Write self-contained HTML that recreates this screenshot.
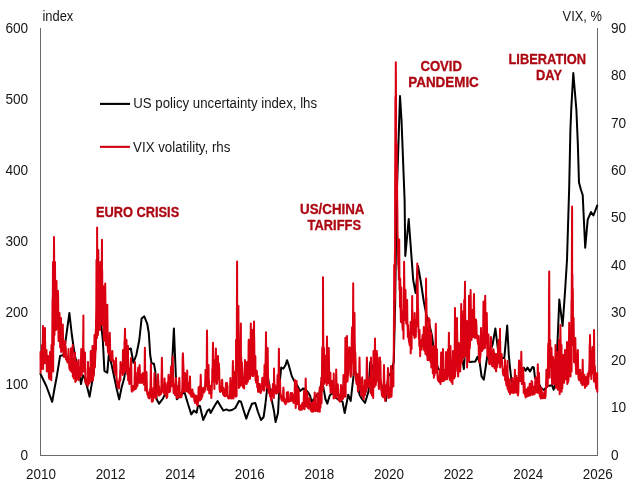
<!DOCTYPE html>
<html><head><meta charset="utf-8"><title>Uncertainty chart</title>
<style>
html,body{margin:0;padding:0;background:#fff;}
svg{display:block}
.t{font-family:"Liberation Sans",sans-serif;font-size:14px;fill:#161616}
.a{stroke:#ad0712;stroke-width:0.3px;font-family:"Liberation Sans",sans-serif;font-size:13.8px;font-weight:bold;fill:#ad0712}
</style></head><body>
<svg width="633" height="485" viewBox="0 0 633 485">
<rect width="633" height="485" fill="#fff"/>
<path d="M40.5 28V456M597.5 28V456M40 455.5H598" stroke="#6a6a6a" stroke-width="1" fill="none"/>
<text x="20.61" y="459.70" class="t" textLength="7.59" lengthAdjust="spacingAndGlyphs">0</text>
<text x="5.43" y="388.53" class="t" textLength="22.77" lengthAdjust="spacingAndGlyphs">100</text>
<text x="5.43" y="317.37" class="t" textLength="22.77" lengthAdjust="spacingAndGlyphs">200</text>
<text x="5.43" y="246.20" class="t" textLength="22.77" lengthAdjust="spacingAndGlyphs">300</text>
<text x="5.43" y="175.03" class="t" textLength="22.77" lengthAdjust="spacingAndGlyphs">400</text>
<text x="5.43" y="103.87" class="t" textLength="22.77" lengthAdjust="spacingAndGlyphs">500</text>
<text x="5.43" y="32.70" class="t" textLength="22.77" lengthAdjust="spacingAndGlyphs">600</text>
<text x="610.90" y="459.70" class="t" textLength="7.59" lengthAdjust="spacingAndGlyphs">0</text>
<text x="610.90" y="412.26" class="t" textLength="15.18" lengthAdjust="spacingAndGlyphs">10</text>
<text x="610.90" y="364.81" class="t" textLength="15.18" lengthAdjust="spacingAndGlyphs">20</text>
<text x="610.90" y="317.37" class="t" textLength="15.18" lengthAdjust="spacingAndGlyphs">30</text>
<text x="610.90" y="269.92" class="t" textLength="15.18" lengthAdjust="spacingAndGlyphs">40</text>
<text x="610.90" y="222.48" class="t" textLength="15.18" lengthAdjust="spacingAndGlyphs">50</text>
<text x="610.90" y="175.03" class="t" textLength="15.18" lengthAdjust="spacingAndGlyphs">60</text>
<text x="610.90" y="127.59" class="t" textLength="15.18" lengthAdjust="spacingAndGlyphs">70</text>
<text x="610.90" y="80.14" class="t" textLength="15.18" lengthAdjust="spacingAndGlyphs">80</text>
<text x="610.90" y="32.70" class="t" textLength="15.18" lengthAdjust="spacingAndGlyphs">90</text>
<text x="26.05" y="479.00" class="t" textLength="29.90" lengthAdjust="spacingAndGlyphs">2010</text>
<text x="95.65" y="479.00" class="t" textLength="29.90" lengthAdjust="spacingAndGlyphs">2012</text>
<text x="165.25" y="479.00" class="t" textLength="29.90" lengthAdjust="spacingAndGlyphs">2014</text>
<text x="234.85" y="479.00" class="t" textLength="29.90" lengthAdjust="spacingAndGlyphs">2016</text>
<text x="304.45" y="479.00" class="t" textLength="29.90" lengthAdjust="spacingAndGlyphs">2018</text>
<text x="374.05" y="479.00" class="t" textLength="29.90" lengthAdjust="spacingAndGlyphs">2020</text>
<text x="443.65" y="479.00" class="t" textLength="29.90" lengthAdjust="spacingAndGlyphs">2022</text>
<text x="513.25" y="479.00" class="t" textLength="29.90" lengthAdjust="spacingAndGlyphs">2024</text>
<text x="582.85" y="479.00" class="t" textLength="29.90" lengthAdjust="spacingAndGlyphs">2026</text>
<text x="42.40" y="20.50" class="t" textLength="30.90" lengthAdjust="spacingAndGlyphs">index</text>
<text x="562.60" y="20.50" class="t" textLength="39.20" lengthAdjust="spacingAndGlyphs">VIX, %</text>
<path d="M100 103.9H130" stroke="#000" stroke-width="2.1"/>
<path d="M100 146.85H130" stroke="#d60012" stroke-width="2.1"/>
<text x="133.30" y="107.90" class="t" textLength="183.79" lengthAdjust="spacingAndGlyphs">US policy uncertainty index, lhs</text>
<text x="133.10" y="151.70" class="t" textLength="97.30" lengthAdjust="spacingAndGlyphs">VIX volatility, rhs</text>
<text x="95.90" y="216.80" class="a" textLength="83.30" lengthAdjust="spacingAndGlyphs">EURO CRISIS</text>
<text x="300.10" y="214.10" class="a" textLength="64.39" lengthAdjust="spacingAndGlyphs">US/CHINA</text>
<text x="307.50" y="229.60" class="a" textLength="53.51" lengthAdjust="spacingAndGlyphs">TARIFFS</text>
<text x="420.40" y="71.00" class="a" textLength="41.60" lengthAdjust="spacingAndGlyphs">COVID</text>
<text x="408.30" y="86.60" class="a" textLength="70.50" lengthAdjust="spacingAndGlyphs">PANDEMIC</text>
<text x="508.50" y="63.80" class="a" textLength="77.60" lengthAdjust="spacingAndGlyphs">LIBERATION</text>
<text x="536.00" y="79.80" class="a" textLength="25.99" lengthAdjust="spacingAndGlyphs">DAY</text>
<polyline points="40.5,374.0 46.3,386.0 52.2,401.8 54.6,388.0 57.0,375.2 60.1,356.0 63.5,355.0 66.5,334.0 69.4,313.0 71.8,334.5 74.7,355.0 77.0,364.0 79.1,371.4 81.0,384.0 82.9,375.2 84.5,378.0 86.7,385.3 89.6,396.7 92.4,380.3 93.8,372.0 96.0,340.0 99.0,308.0 100.7,320.0 102.8,340.0 104.4,370.8 107.3,372.7 108.8,355.0 111.0,362.0 114.2,377.0 116.5,388.0 119.2,399.4 121.5,388.0 124.3,377.8 126.6,358.0 127.7,349.4 130.8,348.5 133.4,362.7 136.3,355.0 139.3,340.0 141.6,318.5 144.3,316.3 147.3,324.0 148.8,333.0 150.2,355.0 151.5,363.2 154.0,363.8 155.3,371.4 156.6,399.2 159.1,403.7 162.9,398.6 166.0,392.0 168.5,389.0 171.0,385.0 173.9,328.5 176.8,399.2 180.0,396.0 184.4,391.7 188.0,404.0 191.3,414.4 193.9,410.6 196.6,412.7 198.0,405.6 199.9,406.0 203.2,420.0 205.5,415.0 207.5,410.6 209.3,409.4 210.6,413.0 214.5,406.0 217.6,401.0 220.5,406.0 223.3,410.6 226.4,409.4 229.0,410.6 232.0,410.0 235.3,408.0 239.0,401.0 241.0,401.8 243.5,410.0 246.3,418.6 249.0,411.0 252.0,403.7 255.3,403.0 258.0,412.0 261.0,420.0 263.6,417.0 265.3,405.0 266.9,391.0 268.2,379.0 269.4,386.6 271.3,398.0 273.9,410.6 275.6,422.0 278.0,413.0 279.5,385.0 281.2,367.6 283.4,368.6 285.6,365.0 287.0,360.2 288.7,365.0 291.9,376.4 294.4,381.4 297.0,385.0 300.1,391.0 303.3,388.4 306.0,390.0 308.5,393.0 310.2,396.0 311.5,401.7 314.0,399.0 317.2,394.7 319.1,394.7 321.6,381.4 323.5,387.8 325.4,399.0 327.3,403.6 329.8,395.3 333.0,393.0 336.0,398.0 339.0,400.0 342.5,401.7 344.7,413.0 346.9,401.7 348.2,394.7 350.7,401.0 352.6,384.0 354.5,367.0 357.0,380.0 359.5,394.7 362.0,399.0 365.0,403.0 368.5,391.4 370.3,362.0 372.0,366.0 375.0,376.0 378.0,380.0 381.0,385.0 383.5,392.0 385.9,401.0 388.3,376.0 391.0,373.0 393.8,362.0 395.2,300.0 396.6,200.0 400.0,96.0 401.5,120.0 404.6,200.0 405.3,256.0 408.7,219.0 413.2,280.0 415.6,293.0 418.0,266.0 420.5,280.0 423.8,301.5 427.0,318.0 429.5,325.0 432.0,336.0 433.7,349.3 435.4,360.0 438.0,368.0 441.0,372.0 444.0,370.0 449.5,376.0 451.0,370.0 454.0,366.0 457.0,364.0 460.0,362.0 462.7,361.3 463.9,369.0 466.1,330.0 468.4,361.2 469.6,362.0 475.3,361.5 477.5,356.7 479.7,362.6 481.6,376.5 483.8,379.7 485.4,369.0 487.3,356.0 489.5,352.0 492.5,345.0 495.4,328.5 498.0,350.0 500.5,358.0 504.3,358.0 507.2,325.5 508.8,355.0 510.0,367.6 511.3,379.0 513.0,385.0 516.0,386.0 519.0,380.0 521.5,372.0 523.7,367.6 525.6,370.8 527.5,367.6 530.0,371.4 532.5,367.0 533.8,367.5 535.0,377.8 537.5,381.0 541.0,388.0 544.0,390.0 547.5,386.0 552.1,385.3 553.6,389.8 555.3,384.0 557.6,340.0 559.3,299.6 562.6,326.0 565.0,292.0 567.0,260.0 569.2,187.0 570.4,130.0 571.3,108.0 573.3,73.0 576.4,110.0 577.8,143.0 579.0,182.6 581.0,190.0 582.7,195.0 585.2,247.7 587.7,219.6 591.0,212.0 593.4,215.5 595.0,211.4 597.2,205.6" fill="none" stroke="#000" stroke-width="2" stroke-linejoin="round" stroke-linecap="round"/>
<polyline points="40.5,352.0 40.6,372.7 40.6,356.0 40.8,361.2 40.9,365.0 41.1,369.0 41.2,369.3 41.3,368.3 41.5,368.4 41.6,359.2 41.7,352.5 41.9,349.6 42.0,345.0 42.2,347.7 42.3,354.0 42.4,359.9 42.6,360.7 42.7,351.7 42.8,339.2 43.0,326.0 43.1,369.0 43.3,345.6 43.4,355.1 43.5,360.9 43.7,350.8 43.8,351.2 43.9,361.6 44.1,363.2 44.2,363.5 44.4,357.9 44.5,357.8 44.6,352.4 44.8,341.5 44.9,333.2 45.0,328.0 45.1,363.0 45.2,341.8 45.3,352.8 45.5,360.2 45.6,358.1 45.7,353.9 45.9,359.1 46.0,356.0 46.2,356.9 46.3,353.2 46.4,351.6 46.5,350.0 46.6,353.0 46.7,358.3 46.8,371.4 47.0,367.6 47.1,368.5 47.3,370.0 47.4,364.2 47.5,362.9 47.7,361.3 47.8,358.5 48.0,356.0 48.1,358.2 48.2,363.7 48.4,367.8 48.5,371.8 48.6,368.4 48.8,373.5 48.9,377.3 49.1,377.7 49.2,376.4 49.3,377.6 49.4,379.0 49.5,376.5 49.6,372.3 49.7,365.0 49.9,357.5 50.0,352.0 50.2,357.0 50.3,364.0 50.4,369.6 50.6,366.7 50.7,367.6 50.8,372.6 51.0,372.8 51.1,368.5 51.3,380.3 51.4,351.2 51.5,345.0 51.7,348.2 51.8,353.2 52.0,358.8 52.1,354.2 52.2,340.2 52.4,319.4 52.5,300.0 52.6,300.3 52.8,295.4 52.9,279.1 53.0,262.0 53.2,371.4 53.3,321.8 53.5,333.5 53.6,321.3 53.8,345.0 53.9,259.3 54.0,237.0 54.2,267.3 54.3,295.8 54.4,313.4 54.5,335.0 54.6,312.1 54.7,296.1 54.9,275.9 55.0,262.0 55.1,275.8 55.3,292.3 55.4,300.5 55.5,315.6 55.7,324.0 55.8,326.0 56.0,330.0 56.1,314.9 56.2,302.9 56.4,289.6 56.5,281.0 56.6,293.0 56.8,308.4 56.9,306.9 57.1,317.1 57.2,328.5 57.3,322.0 57.5,320.0 57.6,316.5 57.7,304.1 57.9,296.3 58.0,291.0 58.2,302.8 58.3,317.1 58.4,330.9 58.6,341.0 58.7,340.4 58.9,339.8 59.0,338.7 59.1,331.7 59.3,322.8 59.4,316.9 59.5,313.0 59.7,321.7 59.8,333.0 60.0,337.0 60.1,344.3 60.2,347.5 60.4,347.1 60.5,345.5 60.6,339.4 60.8,330.1 60.9,322.5 61.0,318.0 61.1,352.0 61.2,330.4 61.3,340.5 61.5,347.5 61.6,347.3 61.8,339.7 61.9,333.5 62.0,350.8 62.2,343.0 62.3,330.0 62.4,324.9 62.6,332.0 62.7,326.9 62.8,324.5 63.0,334.7 63.1,341.1 63.3,341.8 63.4,351.5 63.5,352.1 63.7,356.1 63.8,356.7 64.0,357.0 64.1,356.9 64.2,357.0 64.4,355.0 64.5,356.6 64.6,355.4 64.8,349.4 64.9,344.7 65.1,344.0 65.2,341.0 65.3,344.9 65.5,348.5 65.6,351.1 65.8,346.9 65.9,350.2 66.0,359.6 66.2,359.1 66.3,357.2 66.4,358.9 66.6,357.6 66.7,359.1 66.9,360.5 67.0,361.0 67.1,361.2 67.3,361.7 67.4,358.5 67.5,362.4 67.7,360.9 67.8,357.1 68.0,356.8 68.1,360.4 68.2,354.3 68.4,352.1 68.5,349.0 68.7,353.1 68.8,356.6 68.9,360.4 69.1,361.8 69.2,365.9 69.3,367.5 69.5,368.6 69.6,369.0 69.8,369.0 69.9,369.3 70.0,368.2 70.2,369.4 70.3,370.5 70.4,370.0 70.6,370.2 70.7,366.1 70.9,365.0 71.0,348.2 71.1,357.0 71.3,362.6 71.4,371.6 71.5,371.0 71.7,366.3 71.8,372.0 72.0,372.1 72.1,368.4 72.2,367.7 72.4,363.2 72.5,354.2 72.7,345.0 72.8,376.5 72.9,357.8 73.1,364.6 73.2,369.2 73.3,372.3 73.5,370.9 73.6,371.6 73.8,378.5 73.9,371.6 74.0,372.1 74.2,367.6 74.3,376.6 74.4,368.9 74.6,370.7 74.7,365.3 74.9,358.8 75.0,352.6 75.1,359.5 75.3,382.0 75.4,375.4 75.6,379.2 75.7,378.2 75.8,379.1 76.0,381.2 76.1,380.6 76.2,376.7 76.4,367.2 76.5,361.8 76.7,379.1 76.8,376.0 76.9,363.5 77.1,367.4 77.2,374.7 77.3,373.4 77.5,377.8 77.6,374.6 77.8,376.3 77.9,371.4 78.0,372.2 78.2,371.6 78.3,366.0 78.5,360.0 78.6,380.3 78.7,367.3 78.9,372.9 79.0,374.1 79.1,376.8 79.3,377.7 79.4,377.6 79.6,377.4 79.7,371.8 79.8,372.6 80.0,368.9 80.1,376.7 80.2,376.4 80.4,369.6 80.5,366.7 80.7,367.9 80.8,359.7 80.9,361.1 81.1,354.8 81.2,349.0 81.3,352.9 81.5,360.2 81.6,375.2 81.8,370.9 81.9,370.4 82.0,369.1 82.2,372.6 82.3,370.7 82.5,365.0 82.6,365.3 82.7,365.2 82.9,356.9 83.0,356.3 83.1,344.3 83.3,328.2 83.4,315.5 83.5,371.4 83.7,349.4 83.8,363.1 84.0,370.7 84.1,362.0 84.2,366.1 84.4,370.4 84.5,367.3 84.7,361.4 84.8,356.8 84.9,354.7 85.0,352.6 85.1,356.7 85.2,363.8 85.4,382.8 85.5,379.2 85.6,380.9 85.8,379.6 85.9,379.6 86.0,379.9 86.2,378.4 86.3,381.5 86.5,383.9 86.6,382.1 86.7,384.0 86.9,382.0 87.0,384.5 87.1,384.4 87.3,384.3 87.4,379.1 87.6,380.3 87.7,375.3 87.8,368.4 87.9,386.0 88.0,362.0 88.1,366.0 88.2,371.9 88.4,376.5 88.5,372.4 88.7,377.3 88.8,369.8 88.9,367.9 89.1,371.6 89.2,383.6 89.4,383.0 89.5,381.9 89.6,381.0 89.8,380.4 89.9,381.1 90.0,382.0 90.2,380.1 90.3,376.8 90.5,381.5 90.6,362.4 90.7,355.2 90.8,351.0 90.9,354.9 91.0,361.5 91.1,368.8 91.3,375.7 91.4,378.1 91.6,375.3 91.7,380.6 91.8,379.1 92.0,366.9 92.1,364.8 92.2,361.3 92.4,352.7 92.5,346.0 92.7,354.4 92.8,364.2 92.9,372.4 93.0,380.3 93.1,376.4 93.2,376.7 93.4,376.7 93.5,375.7 93.6,375.8 93.8,374.2 93.9,371.9 94.0,365.4 94.2,357.2 94.3,346.3 94.5,335.0 94.6,340.3 94.7,348.6 94.9,367.6 95.0,361.3 95.1,360.4 95.3,355.9 95.4,348.1 95.6,340.3 95.7,333.6 95.8,329.5 95.9,350.0 96.0,321.8 96.1,318.9 96.3,306.4 96.4,283.4 96.5,260.0 96.7,271.1 96.8,274.1 97.0,338.0 97.1,227.4 97.2,249.7 97.4,279.7 97.5,309.1 97.6,324.0 97.8,323.3 97.9,310.5 98.0,335.0 98.2,264.3 98.3,250.0 98.5,274.8 98.6,298.7 98.7,314.7 98.9,321.5 99.0,313.0 99.1,296.4 99.3,280.4 99.4,271.0 99.6,286.7 99.7,304.0 99.8,317.3 100.0,330.0 100.1,311.1 100.3,292.3 100.4,273.8 100.5,262.0 100.7,276.3 100.8,290.0 100.9,299.5 101.1,310.1 101.2,316.7 101.4,311.4 101.5,295.8 101.6,294.0 101.8,274.1 101.9,253.9 102.0,239.8 102.1,325.0 102.2,270.5 102.3,289.8 102.5,313.2 102.6,321.0 102.7,320.2 102.9,309.2 103.0,296.0 103.2,286.0 103.3,293.0 103.4,300.3 103.6,321.3 103.7,331.8 103.8,336.9 104.0,340.0 104.1,340.1 104.3,340.4 104.4,340.6 104.5,337.3 104.7,327.0 104.8,317.9 104.9,308.3 105.1,293.7 105.2,283.5 105.4,298.9 105.5,315.6 105.6,331.8 105.8,339.8 105.9,343.9 106.0,345.0 106.2,343.1 106.3,344.7 106.5,342.7 106.6,345.2 106.7,337.1 106.9,326.0 107.0,320.5 107.2,309.9 107.3,304.7 107.4,314.8 107.6,328.5 107.7,340.7 107.8,348.0 108.0,352.0 108.1,352.2 108.3,351.5 108.4,348.0 108.5,349.7 108.7,354.0 108.8,350.1 108.9,340.2 109.1,344.6 109.2,353.6 109.4,348.5 109.5,336.0 109.6,338.1 109.8,332.8 109.9,338.0 110.1,345.6 110.2,352.0 110.3,357.0 110.5,358.8 110.6,360.0 110.7,359.1 110.9,359.7 111.0,360.0 111.2,360.1 111.3,359.6 111.4,353.9 111.6,356.4 111.7,359.5 111.8,358.4 112.0,356.0 112.1,353.1 112.3,351.0 112.4,352.7 112.5,355.6 112.6,361.3 112.7,358.8 112.8,361.1 112.9,361.1 113.1,360.0 113.2,361.7 113.4,361.5 113.5,361.8 113.6,360.6 113.8,361.1 113.9,366.4 114.1,368.5 114.2,368.4 114.3,369.9 114.5,367.1 114.6,369.2 114.7,372.0 114.9,372.8 115.0,373.6 115.1,374.0 115.3,374.0 115.4,374.4 115.6,371.9 115.7,367.0 115.8,362.3 116.0,358.0 116.1,361.2 116.3,366.5 116.4,367.7 116.5,377.0 116.7,378.5 116.8,382.3 117.0,382.9 117.1,382.1 117.2,382.4 117.4,385.4 117.5,386.1 117.6,386.6 117.8,385.8 117.9,386.2 118.1,386.2 118.2,387.3 118.3,381.7 118.5,382.1 118.6,382.5 118.7,384.5 118.9,386.4 119.0,388.4 119.2,385.9 119.3,383.3 119.4,381.8 119.6,378.2 119.7,381.1 119.8,381.6 120.0,378.6 120.1,374.2 120.3,369.5 120.4,380.0 120.5,362.0 120.7,366.6 120.8,369.2 121.0,369.1 121.1,369.1 121.2,368.3 121.4,372.7 121.5,365.4 121.6,364.1 121.8,363.9 121.9,368.3 122.1,365.9 122.2,371.6 122.3,371.4 122.5,372.6 122.6,369.1 122.7,375.0 122.9,355.0 123.0,350.0 123.2,354.0 123.3,358.9 123.4,367.3 123.6,370.8 123.7,371.7 123.9,368.2 124.0,373.1 124.1,365.8 124.3,352.4 124.4,356.5 124.5,341.4 124.7,340.8 124.8,335.8 125.0,328.7 125.1,333.8 125.2,345.4 125.4,357.1 125.5,365.8 125.6,371.0 125.8,368.9 125.9,366.5 126.1,362.0 126.2,352.4 126.3,343.9 126.5,340.0 126.6,344.9 126.7,349.5 126.9,360.8 127.0,363.9 127.2,374.4 127.3,367.9 127.4,370.4 127.6,368.4 127.7,360.3 127.9,353.1 128.0,346.0 128.1,380.3 128.3,363.7 128.4,373.3 128.5,378.9 128.7,378.5 128.8,377.6 129.0,372.1 129.1,378.7 129.2,382.7 129.4,383.9 129.5,381.3 129.6,379.0 129.8,379.4 129.9,375.2 130.1,377.4 130.2,378.3 130.3,368.2 130.5,374.4 130.6,371.2 130.8,360.8 130.9,359.8 131.0,358.0 131.2,364.0 131.3,368.7 131.4,382.7 131.6,388.7 131.7,390.7 131.9,391.7 132.0,390.8 132.1,390.3 132.3,391.1 132.4,389.9 132.5,388.8 132.7,390.1 132.8,390.4 133.0,390.5 133.1,389.1 133.2,386.9 133.4,386.1 133.5,386.5 133.6,389.9 133.8,389.0 133.9,390.0 134.1,389.2 134.2,386.2 134.3,388.3 134.5,386.8 134.6,378.4 134.8,371.5 134.9,366.5 135.0,362.0 135.2,369.5 135.3,376.7 135.4,382.3 135.6,386.9 135.7,389.0 135.9,388.5 136.0,387.2 136.1,388.1 136.3,387.6 136.4,387.7 136.5,386.1 136.7,386.7 136.8,384.0 137.0,385.7 137.1,385.6 137.2,381.7 137.4,372.6 137.5,385.7 137.7,378.6 137.8,375.0 137.9,379.2 138.1,368.4 138.2,371.5 138.3,367.6 138.5,377.2 138.6,382.7 138.8,377.5 138.9,376.4 139.0,377.2 139.2,376.6 139.3,374.3 139.5,382.8 139.6,365.0 139.7,368.6 139.9,373.9 140.0,378.7 140.1,380.5 140.3,380.7 140.4,377.1 140.5,382.4 140.7,382.8 140.8,376.7 141.0,378.2 141.1,383.0 141.2,382.2 141.4,381.6 141.5,378.1 141.7,381.8 141.8,377.2 141.9,374.3 142.1,379.7 142.2,381.9 142.3,379.4 142.5,379.4 142.6,378.3 142.8,377.2 142.9,374.5 143.0,373.0 143.2,374.4 143.3,383.4 143.4,380.8 143.6,380.4 143.7,381.4 143.9,384.7 144.0,376.1 144.1,375.2 144.3,376.8 144.4,379.8 144.6,375.5 144.7,363.1 144.8,354.0 144.9,347.8 145.0,354.0 145.1,364.9 145.2,390.4 145.4,385.1 145.5,387.4 145.7,386.9 145.8,385.2 145.9,387.2 146.1,381.6 146.2,371.9 146.3,372.2 146.5,372.0 146.6,376.2 146.8,381.7 146.9,387.9 147.0,391.5 147.2,392.7 147.3,394.5 147.4,392.0 147.6,392.0 147.7,393.4 147.9,394.1 148.0,394.1 148.1,395.7 148.3,397.3 148.4,396.3 148.6,396.1 148.7,396.4 148.8,397.9 149.0,397.9 149.1,397.9 149.2,398.4 149.4,397.2 149.5,396.7 149.7,391.4 149.8,389.5 149.9,392.2 150.1,394.0 150.2,395.9 150.3,390.9 150.5,386.7 150.6,380.4 150.8,370.3 150.9,364.0 151.0,371.2 151.2,383.0 151.3,391.6 151.5,396.4 151.6,398.8 151.7,400.6 151.9,401.5 152.0,401.7 152.1,401.8 152.3,401.5 152.4,401.3 152.6,401.3 152.7,400.4 152.8,399.3 153.0,400.5 153.1,397.5 153.2,393.1 153.4,387.9 153.5,389.3 153.7,391.0 153.8,397.1 153.9,391.7 154.1,393.9 154.2,387.2 154.3,379.4 154.5,373.0 154.6,377.8 154.8,385.7 154.9,392.2 155.0,396.7 155.2,397.8 155.3,397.8 155.5,398.0 155.6,398.3 155.7,398.2 155.9,398.0 156.0,397.9 156.1,397.7 156.3,395.1 156.4,392.5 156.6,393.3 156.7,389.7 156.8,393.3 157.0,392.8 157.1,382.4 157.2,379.1 157.4,389.4 157.5,382.2 157.7,375.0 157.8,375.0 157.9,376.6 158.1,374.3 158.2,380.6 158.4,380.7 158.5,384.0 158.6,395.3 158.8,393.8 158.9,394.3 159.0,391.5 159.2,386.2 159.3,389.1 159.5,392.8 159.6,393.9 159.7,395.5 159.9,392.5 160.0,392.8 160.1,393.7 160.3,394.4 160.4,392.3 160.6,391.4 160.7,393.0 160.8,394.1 161.0,393.8 161.1,393.2 161.2,392.6 161.4,389.9 161.5,378.9 161.7,369.9 161.8,363.4 161.9,357.7 162.1,367.5 162.2,375.8 162.4,382.8 162.5,386.2 162.6,387.2 162.8,390.8 162.9,391.7 163.0,391.9 163.2,391.6 163.3,391.9 163.5,392.6 163.6,392.7 163.7,390.1 163.9,390.6 164.0,392.6 164.1,385.3 164.3,392.5 164.4,393.7 164.6,378.6 164.7,385.3 164.8,387.9 165.0,386.6 165.1,384.2 165.2,383.0 165.4,384.6 165.5,385.7 165.7,390.0 165.8,395.8 165.9,395.7 166.1,391.9 166.2,391.6 166.4,395.1 166.5,395.9 166.6,397.3 166.7,398.0 166.8,397.4 166.9,397.5 167.0,397.2 167.2,396.5 167.3,396.1 167.5,392.6 167.6,382.6 167.7,382.6 167.9,386.6 168.0,390.1 168.1,388.2 168.3,382.5 168.4,377.5 168.5,374.8 168.6,376.6 168.7,379.4 168.8,383.4 169.0,386.6 169.1,389.4 169.3,392.1 169.4,388.8 169.5,389.0 169.7,391.2 169.8,391.7 169.9,391.7 170.1,391.6 170.2,389.1 170.4,384.6 170.5,378.0 170.6,375.8 170.8,372.4 170.9,368.6 171.0,366.4 171.2,370.1 171.3,385.7 171.5,386.4 171.6,372.4 171.7,378.7 171.9,384.1 172.0,376.4 172.2,376.0 172.3,376.8 172.4,364.7 172.6,359.9 172.7,356.6 172.8,362.4 173.0,370.0 173.1,378.6 173.3,384.4 173.4,388.9 173.5,391.0 173.6,393.0 173.7,391.4 173.8,389.9 173.9,390.5 174.1,387.8 174.2,383.9 174.4,385.5 174.5,389.6 174.6,389.8 174.8,394.6 174.9,393.0 175.0,391.3 175.2,395.1 175.3,394.2 175.5,387.6 175.6,381.3 175.7,378.1 175.9,379.2 176.0,378.0 176.2,382.4 176.3,387.0 176.4,390.4 176.6,394.2 176.7,396.4 176.8,398.0 177.0,397.6 177.1,397.5 177.3,397.6 177.4,393.9 177.5,386.3 177.7,390.9 177.8,391.1 177.9,388.1 178.1,392.4 178.2,395.7 178.4,397.5 178.5,392.7 178.6,396.5 178.8,389.1 178.9,387.3 179.1,381.8 179.2,378.2 179.3,378.0 179.5,381.8 179.6,384.9 179.7,392.6 179.9,396.1 180.0,397.0 180.2,396.4 180.3,397.1 180.4,397.4 180.6,396.1 180.7,393.5 180.8,397.2 181.0,396.4 181.1,396.4 181.2,397.3 181.4,396.9 181.5,396.3 181.7,396.2 181.8,395.4 181.9,391.9 182.1,392.1 182.2,389.8 182.4,384.4 182.5,374.3 182.6,359.9 182.8,355.1 182.9,353.3 183.1,357.6 183.2,361.3 183.3,363.8 183.5,367.7 183.6,381.3 183.7,381.3 183.9,388.0 184.0,390.5 184.2,392.0 184.3,391.5 184.4,391.7 184.6,387.0 184.7,382.0 184.8,376.6 185.0,373.0 185.1,376.7 185.3,381.9 185.4,386.3 185.5,385.9 185.7,390.9 185.8,386.8 186.0,380.7 186.1,390.0 186.2,389.3 186.4,390.8 186.5,390.9 186.6,390.1 186.8,387.1 186.9,380.8 187.1,374.9 187.2,370.6 187.3,375.4 187.5,391.7 187.6,386.3 187.7,390.4 187.9,389.6 188.0,390.0 188.2,383.3 188.3,386.5 188.4,390.9 188.6,390.3 188.7,382.9 188.8,384.8 189.0,392.8 189.1,388.7 189.3,393.5 189.4,392.8 189.5,390.8 189.7,386.2 189.8,381.8 190.0,376.4 190.1,379.8 190.2,384.8 190.4,390.2 190.5,393.2 190.6,394.8 190.8,393.6 190.9,393.5 191.1,395.2 191.2,395.8 191.3,396.7 191.5,395.9 191.6,395.3 191.7,395.6 191.9,395.8 192.0,391.8 192.2,390.6 192.3,389.7 192.4,390.5 192.5,389.6 192.6,391.0 192.7,392.4 192.9,393.0 193.0,394.8 193.1,396.0 193.3,397.3 193.4,393.3 193.5,396.4 193.7,393.8 193.8,393.9 194.0,395.0 194.1,395.7 194.2,397.6 194.4,401.1 194.5,400.5 194.6,400.6 194.8,401.8 194.9,402.1 195.1,403.0 195.2,402.6 195.3,401.7 195.5,400.1 195.6,397.8 195.8,395.4 195.9,396.4 196.0,398.3 196.2,400.5 196.3,401.2 196.4,401.0 196.6,395.9 196.7,400.6 196.9,401.0 197.0,404.7 197.1,404.1 197.3,403.2 197.4,403.5 197.6,405.6 197.7,405.0 197.8,403.4 198.0,402.5 198.1,399.0 198.2,401.1 198.4,394.6 198.5,389.5 198.6,387.3 198.8,394.0 198.9,395.4 199.1,394.8 199.2,393.5 199.3,394.7 199.5,396.3 199.6,395.2 199.8,386.2 199.9,399.3 200.0,400.5 200.2,398.0 200.3,394.7 200.4,387.1 200.6,379.8 200.7,374.8 200.9,381.7 201.0,389.2 201.1,394.8 201.2,399.2 201.3,397.5 201.4,397.8 201.5,398.0 201.7,396.2 201.8,397.6 202.0,393.4 202.1,395.5 202.2,396.4 202.4,395.9 202.5,392.6 202.6,394.8 202.8,388.8 202.9,390.7 203.1,387.8 203.2,388.0 203.3,387.8 203.5,388.2 203.6,388.7 203.8,388.9 203.9,392.5 204.0,391.6 204.2,391.6 204.3,391.7 204.4,391.3 204.6,391.5 204.7,391.0 204.9,389.7 205.0,389.0 205.1,383.5 205.3,379.7 205.4,373.7 205.5,370.0 205.7,373.2 205.8,371.7 206.0,373.7 206.1,382.6 206.2,383.6 206.4,386.0 206.5,381.4 206.7,370.7 206.8,354.7 206.9,339.8 207.0,330.4 207.1,339.4 207.2,354.3 207.3,371.1 207.5,389.8 207.6,387.5 207.8,388.3 207.9,384.4 208.0,377.0 208.2,373.9 208.3,368.1 208.5,365.0 208.6,369.8 208.7,377.1 208.9,382.3 209.0,381.0 209.1,386.4 209.3,393.5 209.4,391.7 209.5,392.5 209.7,390.5 209.8,390.5 210.0,388.0 210.1,387.0 210.2,386.1 210.4,388.3 210.5,387.8 210.6,388.0 210.8,388.0 210.9,389.3 211.1,392.9 211.2,396.4 211.3,398.0 211.5,394.7 211.6,392.0 211.8,388.4 211.9,383.4 212.0,381.1 212.2,382.5 212.3,369.0 212.4,369.1 212.6,368.2 212.7,362.5 212.9,348.4 213.0,342.8 213.1,347.7 213.3,355.2 213.4,360.8 213.6,362.8 213.7,379.8 213.8,379.1 214.0,381.8 214.1,379.8 214.2,372.2 214.4,389.0 214.5,360.0 214.7,365.5 214.8,370.5 214.9,376.4 215.1,375.6 215.2,369.6 215.3,377.3 215.5,375.0 215.6,363.7 215.8,358.0 215.9,348.6 216.0,356.7 216.2,367.6 216.3,377.0 216.4,381.7 216.6,381.9 216.7,383.9 216.9,383.1 217.0,383.4 217.1,382.0 217.3,379.1 217.4,375.5 217.6,369.8 217.7,370.1 217.8,364.1 218.0,356.0 218.1,362.1 218.2,368.3 218.4,377.1 218.5,377.8 218.7,372.2 218.8,366.7 218.9,363.2 219.1,368.8 219.2,368.9 219.3,374.8 219.5,384.8 219.6,390.1 219.8,387.7 219.9,390.2 220.0,391.5 220.1,391.7 220.2,391.4 220.3,391.2 220.5,391.6 220.6,391.9 220.7,391.1 220.9,390.4 221.0,386.7 221.1,389.1 221.3,390.7 221.4,387.5 221.6,386.3 221.7,380.5 221.8,383.5 222.0,382.6 222.1,381.5 222.2,379.7 222.4,384.2 222.5,387.6 222.7,391.9 222.8,392.2 222.9,389.3 223.1,394.5 223.2,394.5 223.3,393.6 223.5,387.9 223.6,391.9 223.8,395.2 223.9,395.3 224.0,393.5 224.2,392.8 224.3,394.5 224.5,396.0 224.6,395.8 224.7,394.4 224.9,395.0 225.0,395.2 225.1,396.3 225.3,396.0 225.4,391.5 225.6,389.0 225.7,387.9 225.8,386.4 226.0,382.9 226.1,385.6 226.2,388.6 226.4,392.1 226.5,395.8 226.7,389.9 226.8,389.6 226.9,386.8 227.1,383.0 227.2,385.4 227.4,387.2 227.5,386.1 227.6,392.8 227.8,396.8 227.9,397.5 228.0,397.5 228.2,397.5 228.3,396.2 228.5,396.7 228.6,398.3 228.7,398.3 228.9,397.8 229.0,398.6 229.1,398.0 229.3,396.9 229.4,396.9 229.6,398.2 229.7,396.9 229.8,397.3 230.0,394.4 230.1,388.8 230.2,383.3 230.4,378.0 230.5,381.6 230.7,386.7 230.8,392.2 230.9,396.6 231.1,395.9 231.2,397.2 231.4,397.7 231.5,398.6 231.6,396.0 231.8,391.5 231.9,387.2 232.0,383.2 232.2,382.0 232.3,390.1 232.5,386.6 232.6,382.1 232.7,369.6 232.9,361.0 233.0,367.9 233.1,378.9 233.3,389.4 233.4,398.6 233.6,397.4 233.7,397.0 233.8,395.4 234.0,395.5 234.1,388.8 234.3,384.0 234.4,376.9 234.5,375.0 234.7,372.7 234.8,372.1 234.9,381.5 235.1,374.8 235.2,378.5 235.4,381.3 235.5,385.4 235.6,379.8 235.8,366.3 235.9,396.7 236.0,340.0 236.2,348.6 236.3,364.4 236.5,378.4 236.6,396.0 236.7,354.3 236.9,316.4 237.0,282.7 237.1,261.6 237.3,345.0 237.4,320.4 237.6,342.2 237.7,354.8 237.8,357.9 238.0,372.0 238.1,337.3 238.3,319.3 238.4,306.0 238.5,322.7 238.7,345.3 238.8,388.0 238.9,379.1 239.1,382.0 239.2,385.7 239.4,387.3 239.5,386.4 239.6,383.2 239.8,386.6 239.9,385.9 240.0,378.7 240.2,377.8 240.3,377.3 240.5,368.9 240.6,355.1 240.7,338.8 240.9,323.4 241.0,385.3 241.2,356.8 241.3,372.0 241.4,375.7 241.6,371.0 241.7,363.2 241.8,362.0 242.0,364.5 242.1,366.6 242.3,369.3 242.4,375.1 242.5,373.3 242.7,381.6 242.8,385.5 242.9,387.3 243.1,386.4 243.2,384.9 243.4,382.2 243.5,382.3 243.6,381.2 243.8,380.0 243.9,379.9 244.1,388.5 244.2,384.2 244.3,385.3 244.5,381.9 244.6,378.4 244.7,374.8 244.9,367.0 245.0,360.0 245.2,366.6 245.3,371.2 245.4,379.6 245.6,379.7 245.7,379.9 245.8,382.4 246.0,374.8 246.1,381.0 246.3,383.6 246.4,382.5 246.5,379.8 246.7,384.0 246.8,369.0 247.0,362.0 247.1,363.9 247.2,365.6 247.4,369.5 247.5,370.7 247.6,374.9 247.8,381.7 247.9,380.6 248.1,374.1 248.2,376.5 248.3,370.7 248.5,358.6 248.6,346.0 248.7,339.8 248.9,348.9 249.0,361.6 249.2,370.4 249.3,376.7 249.4,378.5 249.6,378.8 249.7,378.6 249.8,379.0 250.0,378.5 250.1,377.6 250.3,373.9 250.4,365.6 250.5,350.6 250.7,334.9 250.8,323.4 250.9,336.5 251.1,351.2 251.2,355.6 251.4,361.2 251.5,368.2 251.6,374.0 251.8,373.2 251.9,372.0 252.1,365.9 252.2,356.5 252.3,342.7 252.4,375.9 252.5,330.0 252.6,337.5 252.7,349.4 252.9,363.3 253.0,371.7 253.2,375.1 253.3,376.0 253.4,371.3 253.6,358.4 253.7,346.1 253.8,334.3 254.0,321.6 254.1,333.8 254.3,343.8 254.4,357.7 254.5,366.4 254.7,373.6 254.8,371.4 255.0,364.7 255.1,361.2 255.2,357.6 255.3,356.0 255.4,359.6 255.5,380.3 255.6,372.9 255.8,377.9 255.9,379.4 256.1,382.7 256.2,375.2 256.3,376.1 256.5,379.7 256.6,371.0 256.7,370.8 256.9,372.5 257.0,375.4 257.2,387.2 257.3,381.8 257.4,382.7 257.6,379.8 257.7,377.4 257.8,376.0 258.0,391.7 258.1,385.4 258.3,388.5 258.4,388.9 258.5,391.7 258.7,391.6 258.8,391.8 259.0,390.3 259.1,384.1 259.2,384.3 259.4,386.9 259.5,388.3 259.6,384.6 259.8,384.0 259.9,391.0 260.1,389.2 260.2,390.9 260.3,391.1 260.5,392.9 260.6,393.0 260.7,392.5 260.9,392.7 261.0,392.0 261.2,390.8 261.3,389.9 261.4,388.3 261.6,387.3 261.7,385.5 261.9,388.4 262.0,388.6 262.1,381.3 262.3,378.2 262.4,377.9 262.5,378.4 262.7,379.4 262.8,377.7 263.0,379.5 263.1,379.5 263.2,386.1 263.4,388.5 263.5,390.5 263.6,387.9 263.8,382.2 263.9,383.0 264.1,385.1 264.2,380.2 264.3,373.0 264.4,390.5 264.5,365.0 264.6,367.8 264.7,373.4 264.9,379.9 265.0,383.4 265.2,384.9 265.3,382.1 265.4,365.8 265.6,360.2 265.7,354.3 265.9,341.9 266.0,332.3 266.1,342.2 266.3,357.7 266.4,373.7 266.5,382.2 266.7,384.2 266.8,386.7 266.9,387.9 267.1,383.7 267.2,380.0 267.4,369.0 267.5,359.1 267.7,348.0 267.8,356.0 267.9,367.9 268.1,378.9 268.2,387.4 268.3,387.9 268.5,390.0 268.6,392.0 268.8,393.0 268.9,391.0 269.0,388.5 269.2,385.4 269.3,384.3 269.4,384.3 269.6,387.4 269.7,390.3 269.9,393.1 270.0,395.2 270.1,396.4 270.3,396.6 270.4,394.7 270.5,396.0 270.7,397.2 270.8,397.5 271.0,398.3 271.1,399.2 271.2,399.8 271.3,400.5 271.4,399.8 271.5,398.7 271.6,396.0 271.8,391.9 271.9,389.7 272.0,389.0 272.1,389.3 272.2,389.1 272.3,391.8 272.5,392.1 272.6,396.1 272.8,395.5 272.9,384.1 273.0,385.1 273.2,388.2 273.3,393.8 273.4,395.2 273.6,392.0 273.7,385.0 273.9,398.0 274.0,368.6 274.1,376.3 274.3,383.1 274.4,385.9 274.5,391.9 274.7,389.5 274.8,389.2 275.0,385.1 275.1,386.0 275.2,386.0 275.4,386.7 275.5,390.6 275.7,392.5 275.8,392.8 275.9,393.2 276.1,389.8 276.2,390.3 276.3,393.8 276.5,393.0 276.6,393.6 276.8,393.3 276.9,392.9 277.0,393.0 277.2,389.8 277.3,385.5 277.4,380.1 277.6,375.0 277.7,376.5 277.9,380.8 278.0,392.8 278.1,390.4 278.3,391.5 278.4,388.4 278.5,380.2 278.7,367.2 278.8,356.1 278.9,348.8 279.0,356.0 279.1,365.5 279.2,376.5 279.4,381.5 279.5,390.9 279.7,386.0 279.8,381.5 279.9,379.8 280.0,381.0 280.1,383.1 280.2,386.6 280.3,391.1 280.5,393.7 280.6,397.1 280.8,396.7 280.9,394.5 281.0,395.8 281.2,397.7 281.3,398.7 281.4,399.5 281.6,399.8 281.7,400.2 281.8,400.4 281.9,400.3 282.0,399.4 282.1,400.7 282.3,400.8 282.4,400.6 282.6,400.8 282.7,400.8 282.8,399.9 283.0,398.6 283.1,394.8 283.2,390.5 283.4,387.6 283.5,388.8 283.7,391.2 283.8,397.8 283.9,400.1 284.1,399.1 284.2,402.0 284.3,398.3 284.5,399.6 284.6,399.1 284.8,401.9 284.9,403.1 285.0,402.8 285.2,402.7 285.3,403.1 285.4,404.0 285.6,404.2 285.7,404.1 285.9,403.8 286.0,402.2 286.1,401.2 286.3,400.9 286.4,402.6 286.6,399.8 286.7,401.0 286.8,392.6 287.0,393.5 287.1,401.8 287.2,399.1 287.4,401.0 287.5,400.9 287.7,398.7 287.8,395.5 287.9,393.2 288.0,392.0 288.1,393.2 288.2,395.2 288.3,398.5 288.5,400.6 288.6,401.4 288.7,401.7 288.8,401.5 288.9,401.2 289.0,399.7 289.2,401.0 289.3,400.6 289.5,400.8 289.6,401.1 289.7,400.6 289.9,400.8 290.0,401.0 290.1,401.2 290.3,400.2 290.4,397.2 290.6,393.0 290.7,397.2 290.8,400.5 291.0,400.6 291.1,400.8 291.2,398.4 291.4,400.1 291.5,399.1 291.7,397.8 291.8,395.7 291.9,393.9 292.0,393.0 292.1,393.6 292.2,395.1 292.3,397.3 292.5,400.4 292.6,400.3 292.8,400.9 292.9,401.3 293.0,401.0 293.2,399.6 293.3,402.2 293.5,400.6 293.6,402.9 293.7,394.7 293.9,394.2 294.0,394.8 294.1,397.3 294.3,398.3 294.4,398.4 294.6,399.2 294.7,392.5 294.8,386.3 295.0,380.0 295.1,384.1 295.2,390.4 295.4,399.0 295.5,402.6 295.7,408.0 295.8,406.9 295.9,405.1 296.1,400.1 296.2,396.6 296.4,392.2 296.5,386.0 296.6,381.0 296.8,389.3 296.9,397.5 297.0,401.3 297.2,399.4 297.3,404.0 297.5,401.9 297.6,397.5 297.7,390.0 297.9,392.2 298.0,392.7 298.2,389.0 298.3,389.3 298.4,392.5 298.6,390.5 298.7,393.1 298.8,398.2 299.0,407.3 299.1,409.0 299.2,409.5 299.4,408.6 299.5,409.4 299.7,405.9 299.8,406.7 299.9,408.9 300.1,409.9 300.2,409.8 300.4,409.6 300.5,407.7 300.6,405.5 300.8,405.5 300.9,409.8 301.0,408.6 301.2,405.5 301.3,406.8 301.5,405.7 301.6,405.0 301.7,406.4 301.9,409.6 302.0,408.6 302.1,408.9 302.3,402.9 302.4,407.6 302.6,405.6 302.7,408.5 302.8,407.0 303.0,407.8 303.1,405.6 303.3,408.5 303.4,407.8 303.5,406.3 303.7,402.6 303.8,397.0 304.0,391.0 304.1,393.1 304.2,397.0 304.4,402.5 304.5,409.2 304.6,407.1 304.8,406.6 304.9,404.6 305.0,400.9 305.2,398.3 305.3,395.8 305.5,387.3 305.6,381.1 305.7,378.5 305.9,387.8 306.0,396.8 306.1,404.1 306.3,403.2 306.4,406.4 306.6,402.9 306.7,405.2 306.8,404.5 307.0,398.9 307.1,396.2 307.3,392.5 307.4,395.0 307.5,399.0 307.7,402.4 307.8,404.6 307.9,407.6 308.1,407.9 308.2,407.0 308.3,408.0 308.5,408.0 308.6,407.5 308.8,408.3 308.9,408.6 309.0,406.6 309.2,402.9 309.3,404.5 309.5,398.2 309.6,401.2 309.7,403.9 309.9,404.8 310.0,406.9 310.2,404.8 310.3,404.3 310.4,408.4 310.6,407.8 310.7,409.7 310.8,410.5 311.0,410.7 311.1,408.1 311.3,408.0 311.4,405.2 311.5,403.2 311.7,407.0 311.8,410.0 311.9,411.3 312.1,411.8 312.2,411.1 312.4,409.2 312.5,410.1 312.6,407.6 312.8,403.6 312.9,402.1 313.0,401.7 313.2,402.7 313.3,409.8 313.5,411.5 313.6,410.9 313.7,411.2 313.9,411.1 314.0,410.1 314.2,409.0 314.3,405.2 314.4,399.3 314.6,395.7 314.7,392.5 314.8,394.0 315.0,400.8 315.1,405.9 315.3,409.8 315.4,410.7 315.5,410.8 315.7,411.0 315.8,410.6 315.9,411.1 316.1,409.1 316.2,408.2 316.4,407.5 316.5,406.7 316.6,404.2 316.8,406.7 316.9,404.2 317.1,405.6 317.2,400.5 317.3,393.2 317.5,393.6 317.6,397.0 317.7,406.1 317.9,411.5 318.0,411.5 318.2,410.5 318.3,410.8 318.4,411.3 318.6,411.2 318.7,409.4 318.8,403.0 319.0,405.8 319.1,405.9 319.3,406.7 319.4,401.2 319.5,394.4 319.7,387.6 319.8,411.8 319.9,396.8 320.1,403.2 320.2,406.9 320.4,407.8 320.5,406.9 320.6,405.0 320.8,402.5 320.9,398.9 321.1,390.5 321.2,383.0 321.3,377.7 321.5,380.9 321.6,403.0 321.7,388.9 321.9,382.1 322.0,367.7 322.2,348.0 322.3,348.7 322.4,353.7 322.6,359.5 322.7,346.4 322.9,390.3 323.0,277.2 323.1,307.1 323.3,340.2 323.4,362.4 323.5,368.4 323.7,359.8 323.8,350.8 324.0,348.0 324.1,384.0 324.2,363.4 324.4,373.5 324.5,380.4 324.6,380.7 324.8,382.3 324.9,382.6 325.1,378.9 325.2,369.8 325.3,357.7 325.5,356.0 325.6,355.7 325.7,356.4 325.9,360.0 326.0,364.2 326.2,372.3 326.3,377.8 326.4,378.4 326.6,373.6 326.7,385.2 326.8,349.2 327.0,336.5 327.1,345.8 327.3,355.9 327.4,362.7 327.5,374.1 327.7,382.6 327.8,382.4 328.0,383.1 328.1,378.0 328.2,378.1 328.4,375.3 328.5,383.0 328.6,356.5 328.8,348.0 328.9,356.6 329.1,368.1 329.2,378.3 329.3,382.2 329.5,383.3 329.6,378.8 329.7,385.8 329.9,382.3 330.0,381.4 330.2,377.8 330.3,374.4 330.4,372.8 330.5,392.8 330.6,379.3 330.7,384.6 330.9,387.5 331.0,386.8 331.1,386.7 331.3,385.0 331.4,388.3 331.5,383.7 331.7,384.1 331.8,382.1 332.0,381.0 332.1,382.9 332.2,386.7 332.4,390.7 332.5,391.2 332.6,392.7 332.8,390.2 332.9,388.1 333.1,388.9 333.2,391.1 333.3,389.3 333.5,383.8 333.6,398.5 333.7,373.6 333.9,381.1 334.0,387.8 334.2,391.7 334.3,396.9 334.4,395.2 334.6,396.0 334.7,394.4 334.9,395.4 335.0,397.7 335.1,396.8 335.3,396.2 335.4,393.5 335.5,393.2 335.7,394.6 335.8,389.3 336.0,397.5 336.1,374.3 336.2,369.5 336.4,378.0 336.5,384.2 336.6,389.6 336.8,385.8 336.9,388.5 337.1,395.3 337.2,395.9 337.3,386.6 337.5,389.2 337.6,387.5 337.8,384.3 337.9,385.2 338.0,388.6 338.2,389.1 338.3,396.1 338.4,399.6 338.6,395.6 338.7,398.4 338.9,396.1 339.0,397.0 339.1,394.7 339.3,396.7 339.4,401.1 339.5,400.4 339.7,401.2 339.8,401.1 339.9,401.7 340.1,399.6 340.2,399.2 340.4,400.6 340.5,398.9 340.6,394.5 340.8,390.5 340.9,387.1 341.0,385.0 341.1,385.7 341.2,387.7 341.3,386.3 341.5,388.3 341.6,398.1 341.8,399.6 341.9,399.6 342.0,397.9 342.2,399.4 342.3,398.5 342.4,399.1 342.6,399.0 342.7,398.6 342.9,398.1 343.0,395.5 343.1,398.5 343.3,384.9 343.4,378.8 343.5,375.0 343.7,376.7 343.8,379.3 344.0,386.8 344.1,394.8 344.2,396.3 344.4,396.2 344.5,396.7 344.7,396.4 344.8,394.5 344.9,388.9 345.1,377.8 345.2,360.5 345.4,337.8 345.5,346.2 345.6,396.6 345.8,375.1 345.9,382.0 346.0,383.0 346.2,370.7 346.3,366.2 346.4,358.0 346.6,359.4 346.7,351.4 346.9,346.1 347.0,336.0 347.1,347.4 347.3,360.8 347.4,371.8 347.5,381.4 347.7,378.1 347.8,376.9 348.0,374.6 348.1,373.8 348.2,369.0 348.4,368.0 348.5,356.9 348.7,351.2 348.8,349.7 348.9,364.1 349.1,358.9 349.2,347.2 349.3,348.0 349.5,348.2 349.6,347.7 349.8,349.5 349.9,363.1 350.0,365.2 350.2,367.5 350.3,370.5 350.4,374.7 350.6,375.6 350.7,377.0 350.9,376.0 351.0,373.8 351.1,371.6 351.3,361.9 351.4,353.0 351.6,349.4 351.7,343.1 351.8,334.7 352.0,330.0 352.1,327.3 352.2,329.8 352.4,343.3 352.5,353.4 352.7,362.3 352.8,355.1 352.9,332.5 353.1,307.1 353.2,283.3 353.3,308.1 353.5,375.0 353.6,357.6 353.8,369.4 353.9,371.0 354.0,364.6 354.2,346.0 354.3,327.6 354.5,313.0 354.6,325.8 354.7,340.0 354.9,347.9 355.0,355.7 355.1,352.5 355.3,352.6 355.4,356.4 355.6,361.6 355.7,371.3 355.8,378.6 356.0,380.9 356.1,380.6 356.2,380.6 356.4,382.7 356.5,383.0 356.7,384.0 356.8,384.3 356.9,383.3 357.1,378.0 357.2,374.0 357.3,378.9 357.5,378.3 357.6,382.8 357.8,387.1 357.9,389.5 358.0,391.7 358.2,389.8 358.3,385.2 358.5,384.9 358.6,387.1 358.7,381.4 358.9,378.9 359.0,385.5 359.1,381.4 359.3,371.4 359.4,362.8 359.5,357.6 359.7,367.2 359.8,376.1 360.0,381.6 360.1,388.6 360.2,384.6 360.4,378.8 360.5,383.8 360.7,389.4 360.8,386.4 360.9,389.4 361.1,393.2 361.2,395.5 361.3,394.9 361.5,392.7 361.6,392.1 361.8,391.2 361.9,391.5 362.0,387.2 362.2,377.2 362.3,385.3 362.5,386.9 362.6,388.3 362.7,392.0 362.9,396.6 363.0,394.3 363.1,394.8 363.3,394.6 363.4,394.3 363.6,397.0 363.7,399.2 363.8,396.9 364.0,395.0 364.1,391.6 364.2,389.0 364.4,392.3 364.5,383.0 364.7,380.3 364.8,386.6 364.9,395.2 365.1,394.4 365.2,391.1 365.4,386.0 365.5,381.8 365.6,386.1 365.8,386.5 365.9,391.1 366.0,391.2 366.2,391.7 366.3,388.7 366.5,383.9 366.6,375.3 366.7,365.7 366.9,357.6 367.0,362.0 367.1,363.9 367.3,374.4 367.4,381.6 367.6,386.3 367.7,386.6 367.8,387.5 368.0,386.0 368.1,386.2 368.2,383.7 368.4,385.1 368.5,387.0 368.7,385.2 368.8,383.0 368.9,381.6 369.1,384.1 369.2,386.2 369.4,384.9 369.5,380.2 369.6,377.9 369.8,380.2 369.9,379.8 370.0,385.0 370.2,386.7 370.3,386.5 370.5,387.1 370.6,393.0 370.7,374.2 370.9,364.3 371.0,357.6 371.1,363.9 371.3,371.4 371.4,381.9 371.6,387.6 371.7,387.2 371.8,395.2 372.0,394.5 372.1,390.1 372.3,389.8 372.4,390.7 372.5,396.0 372.7,392.6 372.8,391.6 372.9,390.7 373.1,387.0 373.2,398.0 373.4,361.7 373.5,351.0 373.6,358.4 373.8,367.9 373.9,372.7 374.0,375.8 374.2,377.1 374.3,384.3 374.5,387.0 374.6,375.3 374.7,358.0 374.9,346.3 375.0,338.6 375.1,348.4 375.3,361.5 375.4,373.3 375.6,380.9 375.7,385.3 375.8,383.3 376.0,382.8 376.1,381.6 376.3,380.2 376.4,371.4 376.5,367.5 376.7,356.6 376.8,351.0 376.9,355.8 377.1,354.4 377.2,360.2 377.4,362.1 377.5,357.9 377.6,357.8 377.8,357.6 377.9,367.4 378.0,376.4 378.2,375.7 378.3,381.6 378.5,381.4 378.6,383.2 378.7,386.6 378.9,389.0 379.0,387.4 379.2,386.4 379.3,381.5 379.4,377.6 379.6,371.8 379.7,372.5 379.8,363.3 380.0,357.6 380.1,363.9 380.3,367.4 380.4,361.1 380.5,367.7 380.7,380.5 380.8,378.8 380.9,383.0 381.1,382.3 381.2,390.4 381.4,387.1 381.5,384.3 381.6,391.6 381.8,394.0 381.9,395.0 382.0,395.5 382.2,395.8 382.3,395.7 382.5,395.7 382.6,396.4 382.7,394.6 382.9,396.6 383.0,396.6 383.2,397.3 383.3,394.2 383.4,393.5 383.6,391.2 383.7,381.7 383.8,373.2 384.0,365.0 384.1,371.8 384.3,380.6 384.4,380.7 384.5,390.9 384.7,393.8 384.8,396.7 384.9,398.8 385.1,398.9 385.2,401.0 385.4,397.5 385.5,395.6 385.6,394.7 385.8,391.1 385.9,389.9 386.1,390.8 386.2,385.3 386.3,391.7 386.5,394.7 386.6,389.0 386.7,389.0 386.9,384.1 387.0,390.3 387.2,385.8 387.3,390.7 387.4,383.2 387.6,380.0 387.7,377.5 387.8,373.7 388.0,368.0 388.1,373.6 388.3,398.0 388.4,388.8 388.5,392.0 388.7,391.1 388.8,387.2 388.9,388.2 389.1,392.1 389.2,396.3 389.4,391.8 389.5,397.5 389.6,395.8 389.8,397.1 389.9,395.3 390.1,392.0 390.2,394.9 390.3,389.6 390.5,386.3 390.6,377.9 390.7,372.4 390.9,370.2 391.0,366.0 391.2,373.4 391.3,382.1 391.4,389.8 391.5,396.7 391.6,393.2 391.7,392.2 391.8,389.9 392.0,385.7 392.1,383.8 392.3,383.9 392.4,378.9 392.5,380.3 392.7,380.6 392.8,379.1 393.0,377.7 393.1,374.4 393.2,372.0 393.4,386.6 393.5,362.8 393.6,360.3 393.8,349.2 393.9,327.0 394.1,295.6 394.2,265.0 394.3,283.7 394.4,330.0 394.5,294.3 394.6,303.0 394.7,277.7 394.9,253.3 395.0,300.0 395.1,196.0 395.3,133.3 395.4,97.0 395.5,200.0 395.6,181.0 395.7,105.1 395.8,62.3 396.0,94.0 396.1,170.0 396.3,142.0 396.4,145.7 396.5,149.9 396.7,149.0 396.8,144.0 396.9,185.0 397.0,168.8 397.1,187.0 397.2,198.9 397.4,213.0 397.5,230.0 397.6,233.4 397.8,242.2 397.9,248.4 398.1,257.0 398.2,265.0 398.3,264.4 398.5,267.5 398.6,270.0 398.7,265.4 398.9,280.0 399.0,255.9 399.2,239.6 399.3,254.1 399.4,268.7 399.5,290.0 399.6,284.0 399.7,285.1 399.9,287.8 400.0,307.0 400.1,282.9 400.2,278.5 400.3,286.1 400.4,298.2 400.5,307.0 400.7,311.6 400.8,317.4 400.9,322.0 401.0,322.0 401.1,307.3 401.2,295.8 401.3,287.5 401.4,293.7 401.5,303.6 401.6,310.2 401.8,311.4 401.9,313.3 402.0,315.0 402.1,322.0 402.2,319.7 402.3,323.3 402.5,326.2 402.6,328.3 402.7,329.5 402.9,330.2 403.0,330.2 403.2,329.9 403.3,330.0 403.4,322.5 403.5,338.8 403.6,320.8 403.7,317.4 403.9,302.1 404.0,279.8 404.1,261.8 404.3,281.1 404.4,288.1 404.5,320.0 404.6,291.8 404.7,295.0 404.8,299.7 405.0,303.2 405.1,302.3 405.2,306.0 405.4,294.2 405.5,290.0 405.6,300.5 405.8,307.9 405.9,312.2 406.1,318.0 406.2,323.6 406.3,318.7 406.5,321.4 406.6,322.2 406.8,314.4 406.9,311.1 407.0,304.5 407.1,300.0 407.2,305.7 407.3,314.9 407.4,324.1 407.6,327.7 407.7,326.5 407.9,337.0 408.0,325.0 408.1,327.5 408.3,331.0 408.4,333.9 408.5,337.5 408.7,338.4 408.8,338.9 409.0,340.9 409.1,341.7 409.2,342.7 409.3,343.0 409.4,342.4 409.5,343.3 409.6,344.8 409.8,345.3 409.9,343.1 410.1,343.1 410.2,341.8 410.3,336.3 410.5,328.3 410.6,322.0 410.7,353.5 410.8,330.8 410.9,338.2 411.0,341.7 411.2,340.5 411.3,335.5 411.5,330.0 411.6,349.0 411.7,327.0 411.9,323.6 412.0,314.5 412.1,303.1 412.2,296.0 412.3,325.0 412.4,310.1 412.5,319.1 412.7,322.8 412.8,324.0 413.0,321.6 413.1,320.1 413.2,320.0 413.3,333.5 413.4,323.6 413.5,328.0 413.7,331.2 413.8,334.6 413.9,335.6 414.1,335.5 414.2,334.4 414.3,330.2 414.5,338.0 414.6,316.8 414.7,313.0 414.9,322.1 415.0,328.4 415.2,332.9 415.3,332.6 415.4,335.0 415.6,332.5 415.7,328.9 415.8,337.0 416.0,322.0 416.1,319.6 416.3,320.9 416.4,324.4 416.5,326.6 416.7,324.7 416.8,319.9 417.0,325.0 417.1,288.6 417.2,271.3 417.3,263.5 417.4,269.6 417.5,274.9 417.6,275.0 417.8,294.3 417.9,305.7 418.1,309.4 418.2,314.0 418.3,319.4 418.5,332.6 418.6,331.2 418.8,335.6 418.9,338.2 419.0,338.9 419.2,337.1 419.3,346.0 419.5,330.0 419.6,333.7 419.7,339.7 419.9,346.0 420.0,349.7 420.1,349.1 420.2,356.3 420.3,344.8 420.4,341.4 420.5,340.0 420.7,344.0 420.8,347.1 421.0,348.7 421.1,344.8 421.2,345.5 421.4,347.6 421.5,349.8 421.7,349.0 421.8,347.9 421.9,344.9 422.1,343.8 422.2,340.7 422.3,337.8 422.5,335.0 422.6,345.0 422.8,339.4 422.9,342.9 423.0,345.3 423.2,345.0 423.3,342.8 423.4,338.3 423.6,334.6 423.7,330.3 423.8,327.0 423.9,330.5 424.0,350.0 424.1,343.6 424.3,348.3 424.4,349.1 424.6,350.7 424.7,349.1 424.8,347.2 425.0,346.1 425.1,345.2 425.2,345.0 425.4,354.0 425.5,337.5 425.7,334.2 425.8,321.3 425.9,301.6 426.1,278.5 426.2,330.0 426.4,298.0 426.5,307.2 426.6,322.9 426.8,336.4 426.9,355.8 427.0,341.1 427.2,345.0 427.3,346.0 427.5,360.0 427.6,354.2 427.7,357.7 427.9,358.2 428.0,359.0 428.1,358.5 428.3,354.2 428.4,349.0 428.6,339.0 428.7,326.9 428.8,318.0 428.9,360.0 429.0,329.1 429.1,336.7 429.2,337.4 429.4,330.2 429.5,348.0 429.6,319.6 429.8,331.9 429.9,342.5 430.1,350.7 430.2,355.0 430.3,358.9 430.5,362.0 430.6,360.0 430.8,356.7 430.9,349.3 431.0,340.5 431.2,332.8 431.3,367.6 431.5,350.1 431.6,359.9 431.7,365.6 431.9,364.2 432.0,361.4 432.1,357.3 432.3,358.9 432.4,348.2 432.6,358.5 432.7,361.9 432.8,372.8 433.0,373.4 433.1,368.9 433.2,367.2 433.4,363.0 433.5,354.4 433.7,346.0 433.8,350.5 433.9,377.8 434.1,367.5 434.2,373.6 434.4,373.7 434.5,375.3 434.6,369.2 434.8,369.5 434.9,370.1 435.0,358.4 435.2,353.6 435.3,354.8 435.5,348.9 435.6,337.6 435.7,330.7 435.8,323.7 435.9,330.7 436.0,342.4 436.1,361.2 436.3,372.7 436.4,371.2 436.6,371.8 436.7,355.7 436.8,354.1 437.0,349.3 437.1,354.8 437.2,362.7 437.4,371.7 437.5,375.9 437.7,378.2 437.8,379.6 437.9,378.8 438.0,380.3 438.1,378.5 438.2,378.8 438.4,377.2 438.5,380.8 438.6,381.2 438.8,376.8 438.9,379.1 439.0,378.1 439.2,382.0 439.3,378.8 439.5,378.4 439.6,379.0 439.7,375.3 439.9,369.9 440.0,372.2 440.1,381.4 440.3,382.1 440.4,382.4 440.5,384.0 440.6,381.1 440.7,376.1 440.8,367.6 441.0,358.9 441.1,352.6 441.3,360.1 441.4,368.5 441.5,374.5 441.7,379.1 441.8,378.0 441.9,381.1 442.1,381.2 442.2,380.5 442.4,374.4 442.5,353.4 442.6,368.7 442.8,362.0 442.9,354.4 443.0,349.0 443.2,359.4 443.3,368.8 443.5,375.2 443.6,379.4 443.7,381.0 443.9,379.3 444.0,376.7 444.1,379.5 444.3,370.6 444.4,373.9 444.6,371.8 444.7,374.7 444.8,377.3 445.0,379.8 445.1,376.0 445.3,379.3 445.4,377.6 445.5,375.6 445.7,369.2 445.8,360.4 446.0,352.0 446.1,355.3 446.2,360.4 446.4,365.5 446.5,372.1 446.6,375.8 446.8,379.0 446.9,378.4 447.0,379.0 447.2,379.1 447.3,379.2 447.5,377.0 447.6,375.1 447.7,364.3 447.9,360.7 448.0,349.4 448.2,354.1 448.3,364.5 448.4,361.6 448.6,357.1 448.7,348.9 448.9,332.8 449.0,338.9 449.1,350.7 449.3,363.1 449.4,372.5 449.5,375.4 449.7,374.8 449.8,377.8 450.0,380.3 450.1,371.3 450.2,360.5 450.4,352.0 450.5,346.0 450.6,354.0 450.8,363.7 450.9,371.9 451.0,377.5 451.2,374.7 451.3,380.0 451.5,382.1 451.6,381.9 451.7,376.4 451.9,373.7 452.0,372.6 452.2,379.6 452.3,379.7 452.4,380.0 452.5,384.0 452.6,375.5 452.7,366.6 452.8,357.8 453.0,351.0 453.1,354.8 453.3,362.3 453.4,370.9 453.5,376.9 453.7,378.3 453.8,371.3 453.9,374.1 454.1,378.0 454.2,378.4 454.4,376.1 454.5,366.8 454.6,356.1 454.8,337.9 454.9,320.0 455.0,308.0 455.1,376.5 455.2,330.7 455.3,350.2 455.5,363.6 455.6,371.2 455.7,369.4 455.9,359.6 456.0,355.1 456.2,349.5 456.3,348.9 456.4,354.3 456.6,355.0 456.7,345.0 456.8,330.2 457.0,318.0 457.1,328.1 457.3,339.1 457.4,343.9 457.5,350.4 457.7,361.7 457.8,368.0 457.9,374.7 458.1,373.8 458.2,376.5 458.4,367.7 458.5,356.7 458.6,349.2 458.8,343.0 458.9,347.1 459.1,354.9 459.2,362.9 459.3,367.1 459.5,367.1 459.6,369.0 459.7,368.5 459.9,370.3 460.0,370.3 460.1,371.4 460.3,369.1 460.4,367.4 460.6,363.5 460.7,361.4 460.8,346.2 461.0,327.9 461.1,313.5 461.2,304.0 461.3,312.3 461.4,326.8 461.5,343.7 461.7,354.5 461.8,355.3 462.0,362.6 462.1,338.9 462.2,332.8 462.3,330.0 462.4,333.1 462.5,337.9 462.6,345.3 462.8,351.2 462.9,353.2 463.1,342.1 463.2,330.6 463.3,318.1 463.4,311.0 463.5,316.6 463.6,325.6 463.7,334.5 463.9,332.4 464.0,358.0 464.2,300.0 464.3,307.8 464.4,320.4 464.6,330.2 464.7,321.5 464.8,302.6 465.0,281.7 465.1,298.4 465.3,319.0 465.4,341.5 465.5,346.2 465.7,353.8 465.8,347.7 466.0,355.7 466.1,355.0 466.2,348.6 466.4,349.8 466.5,349.2 466.6,344.4 466.8,334.2 466.9,326.1 467.0,321.0 467.1,367.6 467.2,336.1 467.3,344.6 467.5,350.6 467.6,343.7 467.7,339.3 467.9,330.0 468.0,325.0 468.2,329.3 468.3,331.0 468.4,342.9 468.6,345.5 468.7,333.3 468.9,315.1 469.0,295.7 469.1,361.3 469.3,325.5 469.4,340.1 469.5,347.7 469.7,348.7 469.8,347.4 470.0,345.0 470.1,338.5 470.2,328.5 470.4,312.6 470.5,298.8 470.6,290.0 470.8,304.7 470.9,321.4 471.1,333.6 471.2,338.5 471.3,338.9 471.5,340.0 471.6,337.9 471.7,337.0 471.9,331.8 472.0,323.4 472.2,314.0 472.3,310.0 472.4,315.8 472.6,322.6 472.7,328.6 472.9,327.5 473.0,331.3 473.1,336.9 473.3,335.2 473.4,332.0 473.5,325.2 473.7,308.2 473.8,300.9 474.0,294.0 474.1,302.4 474.2,310.9 474.4,324.8 474.5,332.9 474.6,335.7 474.8,337.7 474.9,337.8 475.0,338.0 475.1,336.8 475.2,337.2 475.3,332.2 475.5,329.3 475.6,325.9 475.8,320.6 475.9,319.4 476.0,319.6 476.2,321.7 476.3,328.1 476.4,323.9 476.6,330.2 476.7,337.5 476.9,334.7 477.0,334.5 477.1,337.5 477.3,339.1 477.4,339.7 477.5,340.2 477.7,341.4 477.8,342.0 478.0,343.7 478.1,344.2 478.2,343.3 478.4,340.6 478.5,337.9 478.6,336.0 478.8,355.0 478.9,348.0 479.1,353.8 479.2,357.6 479.3,359.8 479.5,361.2 479.6,362.5 479.8,361.0 479.9,360.0 480.0,358.6 480.2,357.3 480.3,356.1 480.5,355.0 480.6,349.3 480.7,341.6 480.9,334.5 481.0,327.9 481.1,331.7 481.3,339.2 481.4,345.6 481.5,349.6 481.7,349.5 481.8,343.5 482.0,347.5 482.1,350.9 482.2,350.6 482.4,350.1 482.5,350.0 482.7,349.7 482.8,348.3 482.9,347.0 483.1,341.0 483.2,329.3 483.3,315.4 483.5,301.5 483.6,310.5 483.8,312.5 483.9,326.0 484.0,328.5 484.2,341.6 484.3,348.2 484.4,348.0 484.6,346.2 484.7,341.1 484.9,330.1 485.0,348.0 485.1,302.4 485.2,295.7 485.3,302.6 485.4,312.9 485.5,321.0 485.7,323.5 485.8,333.4 486.0,340.9 486.1,343.5 486.2,324.7 486.4,329.4 486.5,327.5 486.7,317.2 486.8,313.0 486.9,322.2 487.1,333.4 487.2,344.8 487.3,352.4 487.5,356.0 487.6,355.9 487.8,356.7 487.9,353.9 488.0,352.0 488.2,346.6 488.3,340.2 488.5,334.5 488.6,338.6 488.7,345.4 488.9,353.4 489.0,358.1 489.1,362.1 489.2,363.8 489.3,363.3 489.4,363.7 489.6,364.0 489.7,364.2 489.8,364.3 490.0,362.4 490.1,353.4 490.2,356.6 490.4,355.1 490.5,360.7 490.7,352.7 490.8,345.9 490.9,340.4 491.0,337.0 491.1,340.6 491.2,348.1 491.3,353.1 491.5,357.2 491.6,361.3 491.8,355.8 491.9,362.1 492.0,365.0 492.2,365.8 492.3,366.1 492.4,366.4 492.6,366.3 492.7,365.5 492.9,365.0 493.0,361.7 493.1,354.9 493.3,350.3 493.4,349.3 493.6,350.2 493.7,352.6 493.8,355.5 494.0,351.9 494.1,358.5 494.2,366.5 494.4,366.8 494.5,368.3 494.7,366.0 494.8,354.8 494.9,356.9 495.1,354.0 495.2,360.4 495.3,359.4 495.5,363.8 495.6,368.8 495.8,365.5 495.9,370.0 496.0,370.7 496.2,371.4 496.3,366.0 496.5,361.6 496.6,357.0 496.7,354.0 496.9,356.7 497.0,362.6 497.1,366.3 497.3,366.9 497.4,357.8 497.6,362.1 497.7,360.9 497.8,364.0 498.0,353.9 498.1,346.5 498.2,349.2 498.4,343.4 498.5,340.0 498.7,346.4 498.8,355.2 498.9,362.5 499.1,361.5 499.2,348.5 499.3,353.5 499.5,357.2 499.6,355.0 499.8,345.2 499.9,335.7 500.0,328.7 500.1,367.6 500.2,341.2 500.3,349.9 500.5,357.0 500.6,357.3 500.7,361.9 500.9,364.0 501.0,361.3 501.1,359.0 501.3,358.4 501.4,356.2 501.5,362.0 501.7,354.0 501.8,356.4 502.0,360.0 502.1,361.9 502.2,365.8 502.4,366.6 502.5,367.9 502.7,369.2 502.8,371.7 502.9,372.8 503.1,374.0 503.2,374.3 503.4,374.7 503.5,375.3 503.6,375.5 503.8,374.9 503.9,371.8 504.0,371.7 504.2,372.0 504.3,374.6 504.5,374.6 504.6,374.1 504.7,369.2 504.9,363.8 505.0,359.8 505.1,380.3 505.1,364.8 505.3,371.3 505.4,377.0 505.6,380.4 505.7,380.2 505.8,380.0 506.0,366.2 506.1,383.5 506.2,383.5 506.4,385.1 506.5,385.0 506.7,385.9 506.8,385.9 506.9,384.5 507.1,381.7 507.2,375.3 507.4,367.4 507.5,361.0 507.6,389.0 507.8,374.4 507.9,380.5 508.0,380.8 508.2,377.2 508.3,385.7 508.5,390.9 508.6,384.0 508.7,390.4 508.9,386.3 509.0,384.4 509.1,392.2 509.3,390.3 509.4,388.4 509.6,385.0 509.7,383.0 509.8,380.9 509.9,379.6 510.0,394.2 510.1,384.9 510.3,387.9 510.4,389.1 510.5,389.0 510.7,388.2 510.8,384.4 510.9,390.4 511.1,392.8 511.2,388.3 511.4,390.3 511.5,392.2 511.6,391.3 511.8,392.5 511.9,390.3 512.0,386.0 512.2,383.3 512.3,380.2 512.4,378.0 512.6,379.8 512.7,386.4 512.9,390.7 513.0,391.4 513.1,392.3 513.3,392.3 513.4,393.1 513.6,392.6 513.7,392.3 513.8,392.7 513.9,393.0 514.0,392.2 514.1,391.3 514.3,391.8 514.4,390.8 514.5,386.2 514.7,378.6 514.8,372.3 514.9,369.7 515.1,377.1 515.2,375.6 515.4,382.0 515.5,377.9 515.6,381.7 515.8,392.5 515.9,383.8 516.0,382.9 516.2,375.7 516.3,377.0 516.5,389.2 516.6,390.3 516.7,386.6 516.9,389.0 517.0,385.4 517.2,381.0 517.3,378.0 517.4,380.4 517.6,394.2 517.7,389.5 517.8,393.1 518.0,395.5 518.1,394.2 518.3,393.0 518.4,390.4 518.5,385.6 518.7,379.1 518.8,369.5 519.0,360.6 519.1,363.8 519.2,368.3 519.4,375.0 519.5,379.7 519.6,380.9 519.8,380.0 519.9,380.3 520.0,380.1 520.2,380.8 520.3,381.0 520.5,380.9 520.6,381.0 520.7,379.9 520.9,374.7 521.0,364.5 521.2,358.5 521.3,351.7 521.4,358.0 521.6,366.9 521.7,375.5 521.8,384.0 522.0,383.0 522.1,383.4 522.3,383.2 522.4,382.5 522.5,375.2 522.7,376.3 522.8,374.1 522.9,371.1 523.1,370.5 523.2,368.0 523.4,375.7 523.5,383.0 523.6,388.3 523.7,393.0 523.8,391.0 523.9,391.0 524.1,388.2 524.2,385.5 524.3,383.6 524.5,383.0 524.6,384.3 524.7,386.6 524.9,391.6 525.0,394.6 525.2,395.5 525.3,395.6 525.4,396.1 525.6,397.4 525.7,396.7 525.8,396.2 526.0,394.3 526.1,392.7 526.3,390.9 526.4,389.5 526.5,391.0 526.7,392.8 526.8,393.0 526.9,393.5 527.1,396.2 527.2,392.6 527.4,396.1 527.5,396.4 527.6,396.0 527.8,388.6 527.9,390.3 528.1,387.4 528.2,390.0 528.3,388.9 528.5,395.1 528.6,394.6 528.7,395.6 528.9,395.8 529.0,394.5 529.2,391.2 529.3,390.0 529.4,388.9 529.6,386.0 529.7,383.7 529.8,386.4 530.0,395.5 530.1,392.6 530.3,394.1 530.4,394.2 530.5,394.6 530.7,394.5 530.8,391.8 531.0,394.7 531.1,389.1 531.2,386.2 531.4,384.1 531.5,383.1 531.6,381.0 531.8,385.2 531.9,387.3 532.1,387.0 532.2,382.0 532.3,384.7 532.5,394.7 532.6,394.3 532.7,394.4 532.9,392.6 533.0,394.2 533.2,394.0 533.3,393.2 533.4,394.2 533.6,394.1 533.7,386.8 533.8,390.1 534.0,391.0 534.1,392.5 534.3,393.9 534.4,394.2 534.5,393.8 534.7,393.5 534.8,393.4 535.0,391.5 535.1,389.9 535.2,383.6 535.4,380.4 535.5,378.0 535.6,381.1 535.8,385.0 535.9,389.4 536.1,392.1 536.2,381.4 536.3,384.9 536.5,380.1 536.6,377.5 536.7,379.4 536.9,380.3 537.0,382.7 537.2,385.6 537.3,386.0 537.4,383.1 537.6,393.0 537.7,368.9 537.8,364.3 538.0,374.4 538.1,381.9 538.3,382.5 538.4,387.8 538.5,388.4 538.7,385.4 538.8,378.9 539.0,373.0 539.1,376.6 539.2,381.2 539.4,389.1 539.5,393.1 539.6,392.4 539.8,395.7 539.9,396.2 540.1,394.9 540.2,396.1 540.3,392.9 540.5,396.6 540.6,397.7 540.8,398.6 540.9,397.8 541.0,396.6 541.2,393.0 541.3,389.8 541.4,388.6 541.5,387.9 541.6,389.3 541.7,390.9 541.9,392.5 542.0,395.3 542.1,396.4 542.3,395.6 542.4,397.0 542.5,397.6 542.7,398.1 542.8,398.2 543.0,397.8 543.1,398.2 543.2,397.1 543.4,394.8 543.5,395.5 543.6,396.4 543.8,398.1 543.9,397.1 544.1,392.7 544.2,392.3 544.3,394.3 544.5,394.4 544.6,393.0 544.8,391.0 544.9,390.9 545.0,392.0 545.2,398.0 545.3,395.3 545.4,396.4 545.6,396.1 545.7,393.3 545.9,388.2 546.0,388.9 546.1,382.5 546.3,374.6 546.4,369.7 546.5,373.0 546.7,378.2 546.8,380.8 547.0,381.9 547.1,386.9 547.2,380.8 547.4,383.1 547.5,385.9 547.7,386.6 547.8,378.1 547.9,367.6 548.1,355.4 548.2,345.0 548.3,343.7 548.5,346.2 548.6,346.0 548.8,341.4 548.9,330.4 549.0,303.7 549.2,271.6 549.3,293.6 549.4,324.7 549.6,377.8 549.7,359.6 549.9,352.9 550.0,342.8 550.1,340.1 550.2,340.0 550.3,344.6 550.4,353.5 550.5,356.5 550.7,350.8 550.8,354.3 551.0,365.6 551.1,367.0 551.2,362.2 551.4,354.4 551.5,348.0 551.7,357.4 551.8,367.6 551.9,376.2 552.1,384.0 552.2,383.1 552.3,380.3 552.5,376.6 552.6,372.3 552.8,363.2 552.9,358.9 553.0,357.0 553.2,359.6 553.3,366.6 553.4,373.2 553.6,368.0 553.7,374.5 553.9,384.0 554.0,379.3 554.1,372.6 554.3,382.5 554.4,383.7 554.5,376.4 554.7,374.9 554.8,369.3 555.0,370.7 555.1,370.9 555.2,363.8 555.4,353.5 555.5,345.0 555.7,356.5 555.8,369.1 555.9,387.9 556.1,384.8 556.2,386.9 556.3,386.1 556.5,384.7 556.6,378.0 556.8,367.1 556.9,357.8 557.0,352.0 557.2,362.3 557.3,373.0 557.4,381.7 557.6,386.8 557.7,388.4 557.9,389.7 558.0,386.9 558.1,384.0 558.3,370.2 558.4,358.0 558.6,358.6 558.7,361.1 558.8,350.3 559.0,340.0 559.1,345.4 559.2,358.9 559.4,374.8 559.5,384.5 559.7,394.2 559.8,388.1 559.9,378.7 560.1,363.2 560.2,343.1 560.4,325.0 560.5,333.5 560.6,340.9 560.8,353.3 560.9,361.5 561.0,370.7 561.2,363.9 561.3,356.2 561.5,345.0 561.6,391.7 561.7,364.4 561.9,377.4 562.0,385.3 562.1,388.4 562.3,388.5 562.4,386.3 562.6,381.7 562.7,373.3 562.8,363.4 563.0,355.0 563.1,360.3 563.2,368.2 563.4,373.7 563.5,376.9 563.7,378.9 563.8,379.4 563.9,382.0 564.1,382.8 564.2,380.8 564.3,379.8 564.5,375.5 564.6,371.8 564.8,359.4 564.9,353.3 565.0,350.0 565.2,359.2 565.3,369.2 565.5,377.3 565.6,379.3 565.7,374.7 565.9,367.0 566.0,363.8 566.1,373.3 566.3,366.0 566.4,359.3 566.6,370.9 566.7,364.8 566.8,353.9 567.0,342.0 567.1,348.7 567.3,384.0 567.4,370.9 567.5,378.5 567.7,381.7 567.8,382.5 567.9,382.3 568.1,381.9 568.2,379.8 568.3,381.0 568.5,380.5 568.6,376.5 568.8,370.2 568.9,356.3 569.0,339.1 569.2,322.7 569.3,333.7 569.5,350.0 569.6,363.5 569.7,373.5 569.9,372.2 570.0,368.3 570.1,360.8 570.3,351.8 570.4,344.3 570.5,340.0 570.6,376.5 570.7,346.7 570.8,355.3 571.0,362.1 571.1,355.6 571.2,338.6 571.4,317.1 571.5,300.0 571.6,371.4 571.7,294.0 571.8,285.3 571.9,256.7 572.1,206.4 572.2,335.0 572.4,274.3 572.5,289.7 572.6,288.1 572.8,290.0 572.9,302.2 573.0,345.0 573.2,327.8 573.3,327.9 573.5,322.1 573.6,317.8 573.7,327.6 573.9,340.4 574.0,362.0 574.1,359.8 574.3,361.8 574.4,361.2 574.6,362.6 574.7,358.0 574.8,353.4 575.0,351.5 575.1,344.2 575.3,338.0 575.4,342.2 575.5,347.6 575.7,357.4 575.8,363.7 575.9,368.5 576.1,371.5 576.2,374.0 576.4,373.1 576.5,371.4 576.6,369.0 576.8,373.5 576.9,371.0 577.0,362.1 577.2,355.5 577.3,355.8 577.5,365.3 577.6,356.6 577.7,351.7 577.8,350.0 577.9,351.0 578.0,358.2 578.1,366.0 578.3,373.5 578.4,376.6 578.6,377.7 578.7,378.9 578.8,379.3 579.0,379.6 579.1,378.9 579.3,380.3 579.4,380.3 579.5,379.3 579.7,378.8 579.8,374.9 579.9,372.0 580.1,370.8 580.2,369.7 580.4,372.1 580.5,375.4 580.6,377.9 580.8,381.1 580.9,379.1 581.0,382.1 581.2,383.0 581.3,383.1 581.5,383.0 581.6,383.5 581.7,383.7 581.9,383.6 582.0,383.5 582.1,380.7 582.3,379.0 582.4,373.1 582.5,385.3 582.6,366.0 582.7,359.8 582.8,366.3 583.0,374.5 583.1,379.8 583.3,384.5 583.4,384.1 583.5,384.6 583.7,378.0 583.8,377.4 583.9,380.5 584.1,375.3 584.2,375.9 584.4,374.7 584.5,376.3 584.6,379.3 584.8,383.0 584.9,386.3 585.0,387.9 585.2,387.0 585.3,386.4 585.5,386.6 585.6,382.0 585.7,380.2 585.9,377.9 586.0,383.3 586.2,383.4 586.3,376.9 586.4,386.0 586.6,385.1 586.7,385.8 586.8,382.5 587.0,381.9 587.1,380.5 587.3,380.0 587.4,378.6 587.5,375.6 587.7,373.8 587.8,375.3 587.9,377.6 588.1,380.7 588.2,384.0 588.4,380.9 588.5,378.1 588.6,375.0 588.8,372.0 588.9,371.2 589.0,372.6 589.2,375.9 589.3,366.8 589.5,361.9 589.6,350.9 589.7,344.6 589.9,343.4 590.0,335.0 590.2,346.3 590.3,360.1 590.4,368.7 590.6,368.9 590.7,363.5 590.8,356.7 591.0,352.0 591.1,357.0 591.3,379.0 591.4,370.7 591.5,373.3 591.7,373.8 591.8,371.0 591.9,363.5 592.1,358.5 592.2,353.5 592.4,349.4 592.5,347.0 592.6,348.6 592.8,359.2 592.9,361.1 593.1,362.6 593.2,371.9 593.3,373.7 593.5,374.1 593.6,368.4 593.7,354.9 593.9,381.5 594.0,330.0 594.2,346.8 594.3,360.9 594.4,368.6 594.6,365.3 594.7,366.5 594.8,366.2 595.0,369.7 595.1,372.5 595.3,377.5 595.4,381.8 595.5,380.0 595.7,383.7 595.8,383.4 595.9,386.0 596.1,387.5 596.2,388.1 596.4,389.0 596.5,388.7 596.6,388.2 596.8,386.4 596.9,382.2 597.1,377.2 597.2,373.0 597.3,391.7" fill="none" stroke="#db0011" stroke-width="2" stroke-linejoin="round" stroke-linecap="round"/>
</svg>
</body></html>
